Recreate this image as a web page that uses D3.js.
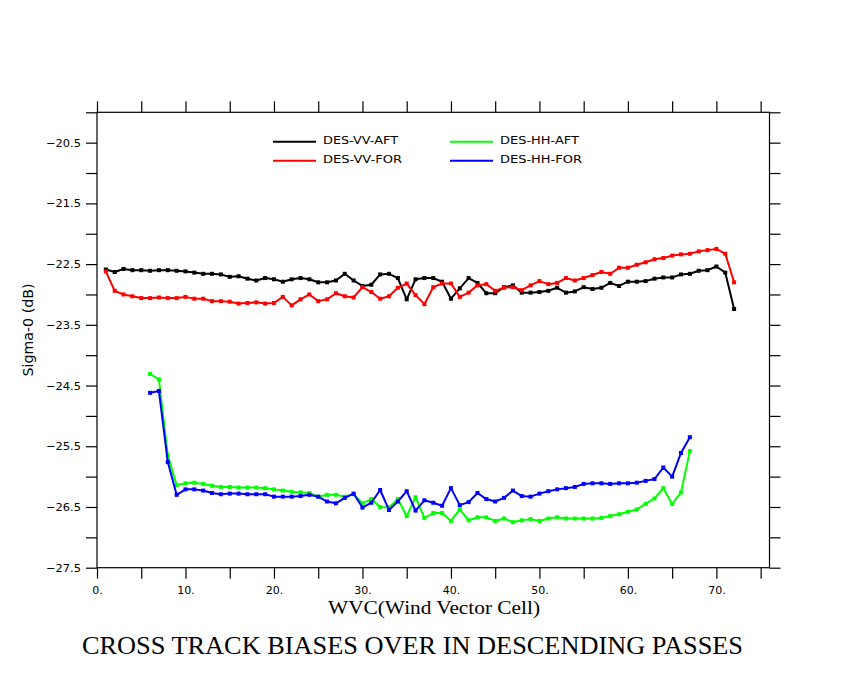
<!DOCTYPE html>
<html>
<head>
<meta charset="utf-8">
<script src="https://cdn.jsdelivr.net/npm/d3@7"></script>
<style>
  body { margin: 0; background: #fff; }
  svg { display: block; }
</style>
</head>
<body>
<svg id="chart" width="850" height="680"></svg>
<script>
// ---- data ----
const wvcVV = [1,2,3,4,5,6,7,8,9,10,11,12,13,14,15,16,17,18,19,20,21,22,23,24,25,26,27,28,29,30,31,32,33,34,35,36,
  37,38,39,40,41,42,43,44,45,46,47,48,49,50,51,52,53,54,55,56,57,58,59,60,61,62,63,64,65,66,67,68,69,70,71,72];
const wvcHH = [6,7,8,9,10,11,12,13,14,15,16,17,18,19,20,21,22,23,24,25,26,27,28,29,30,31,32,33,34,35,36,
  37,38,39,40,41,42,43,44,45,46,47,48,49,50,51,52,53,54,55,56,57,58,59,60,61,62,63,64,65,66,67];

const desVVAft = [-22.59,-22.63,-22.58,-22.60,-22.60,-22.61,-22.60,-22.60,-22.61,-22.62,-22.64,-22.66,-22.66,-22.67,
  -22.71,-22.70,-22.74,-22.77,-22.73,-22.75,-22.79,-22.75,-22.73,-22.75,-22.80,-22.80,-22.77,-22.66,-22.77,-22.86,
  -22.84,-22.67,-22.66,-22.73,-23.08,-22.75,-22.73,-22.73,-22.79,-23.07,-22.90,-22.73,-22.81,-22.98,-22.98,-22.88,
  -22.85,-22.97,-22.97,-22.96,-22.94,-22.89,-22.97,-22.95,-22.88,-22.91,-22.89,-22.81,-22.86,-22.79,-22.79,-22.78,
  -22.74,-22.72,-22.72,-22.67,-22.66,-22.61,-22.60,-22.54,-22.64,-23.24];

const desVVFor = [-22.62,-22.94,-23.00,-23.03,-23.06,-23.06,-23.05,-23.06,-23.06,-23.04,-23.07,-23.07,-23.11,-23.11,
  -23.12,-23.15,-23.14,-23.13,-23.15,-23.14,-23.04,-23.18,-23.08,-23.00,-23.11,-23.08,-22.98,-23.03,-23.05,-22.88,
  -22.96,-23.07,-23.03,-22.89,-22.82,-23.01,-23.16,-22.88,-22.82,-22.82,-23.04,-22.97,-22.85,-22.83,-22.94,-22.89,
  -22.88,-22.93,-22.85,-22.78,-22.83,-22.81,-22.73,-22.77,-22.73,-22.68,-22.63,-22.66,-22.56,-22.56,-22.51,-22.47,
  -22.42,-22.40,-22.36,-22.34,-22.33,-22.29,-22.27,-22.25,-22.33,-22.80];

const desHHAft = [-24.31,-24.40,-25.65,-26.14,-26.11,-26.10,-26.12,-26.15,-26.17,-26.17,-26.18,-26.18,-26.18,-26.19,
  -26.21,-26.23,-26.25,-26.26,-26.27,-26.33,-26.30,-26.30,-26.33,-26.29,-26.44,-26.37,-26.50,-26.51,-26.37,-26.65,
  -26.34,-26.68,-26.60,-26.60,-26.73,-26.54,-26.72,-26.67,-26.67,-26.73,-26.69,-26.75,-26.72,-26.70,-26.73,-26.69,
  -26.67,-26.69,-26.69,-26.69,-26.69,-26.68,-26.65,-26.62,-26.58,-26.54,-26.45,-26.36,-26.19,-26.45,-26.26,-25.58];

const desHHFor = [-24.62,-24.59,-25.76,-26.30,-26.21,-26.21,-26.23,-26.27,-26.29,-26.28,-26.28,-26.29,-26.29,-26.29,
  -26.33,-26.33,-26.33,-26.32,-26.30,-26.33,-26.41,-26.44,-26.35,-26.28,-26.51,-26.43,-26.22,-26.55,-26.41,-26.24,
  -26.56,-26.39,-26.43,-26.48,-26.19,-26.47,-26.42,-26.27,-26.37,-26.41,-26.35,-26.23,-26.32,-26.33,-26.28,-26.24,
  -26.21,-26.19,-26.17,-26.12,-26.11,-26.11,-26.12,-26.11,-26.11,-26.10,-26.07,-26.04,-25.85,-26.00,-25.61,-25.35];

const seriesNames = ["DES-VV-AFT", "DES-VV-FOR", "DES-HH-AFT", "DES-HH-FOR"];
const seriesColors = ["#000000", "#ff0000", "#00ff00", "#0000ff"];

const xTickValues = [0,5,10,15,20,25,30,35,40,45,50,55,60,65,70,75];
const xTickLabels = {0:"0.",10:"10.",20:"20.",30:"30.",40:"40.",50:"50.",60:"60.",70:"70."};
const yTickValues = [-20,-20.5,-21,-21.5,-22,-22.5,-23,-23.5,-24,-24.5,-25,-25.5,-26,-26.5,-27,-27.5];
const yTickLabels = {"-20.5":"−20.5","-21.5":"−21.5","-22.5":"−22.5","-23.5":"−23.5",
  "-24.5":"−24.5","-25.5":"−25.5","-26.5":"−26.5","-27.5":"−27.5"};

// ---- chart ----
const svg = d3.select("#chart");
const X0 = 97, X1 = 769.5, Y0 = 567.7, Y1 = 112.3;
const x = d3.scaleLinear().domain([0, 76]).range([X0, X1]);
const y = d3.scaleLinear().domain([-27.5, -20]).range([Y0, Y1]);

const tickFont = "DejaVu Sans, sans-serif";

function styleAxis(g) {
  g.select(".domain").remove();
  g.selectAll(".tick line").attr("stroke", "#000").attr("stroke-width", 1.2);
  g.selectAll("text").attr("font-family", tickFont).attr("font-size", 11).attr("fill", "#000");
}

svg.append("g").attr("transform", `translate(${X0},0)`)
  .call(d3.axisLeft(y).tickValues(yTickValues).tickSize(11).tickSizeOuter(0).tickPadding(5)
    .tickFormat(d => yTickLabels[String(d)] || ""))
  .call(styleAxis)
  .call(g => g.selectAll("text").filter(function() { return this.textContent !== ""; })
    .attr("textLength", 35).attr("lengthAdjust", "spacingAndGlyphs"));
svg.append("g").attr("transform", `translate(${X1},0)`)
  .call(d3.axisRight(y).tickValues(yTickValues).tickSize(11).tickSizeOuter(0).tickFormat(""))
  .call(styleAxis);
svg.append("g").attr("transform", `translate(0,${Y0})`)
  .call(d3.axisBottom(x).tickValues(xTickValues).tickSize(11).tickSizeOuter(0).tickPadding(8)
    .tickFormat(d => xTickLabels[d] || ""))
  .call(styleAxis);
svg.append("g").attr("transform", `translate(0,${Y1})`)
  .call(d3.axisTop(x).tickValues(xTickValues).tickSize(11).tickSizeOuter(0).tickFormat(""))
  .call(styleAxis);

// frame
svg.append("rect").attr("x", X0).attr("y", Y1).attr("width", X1 - X0).attr("height", Y0 - Y1)
  .attr("fill", "none").attr("stroke", "#000").attr("stroke-width", 1.2);

// series
const seriesData = [
  {xs: wvcVV, ys: desVVAft},
  {xs: wvcVV, ys: desVVFor},
  {xs: wvcHH, ys: desHHAft},
  {xs: wvcHH, ys: desHHFor}
];
const line = d3.line().x(d => x(d[0])).y(d => y(d[1]));
seriesData.forEach((s, k) => {
  const pts = s.xs.map((v, i) => [v, s.ys[i]]);
  const g = svg.append("g");
  g.append("path").datum(pts).attr("d", line)
    .attr("fill", "none").attr("stroke", seriesColors[k]).attr("stroke-width", 2)
    .attr("stroke-linejoin", "round");
  g.selectAll("rect").data(pts).enter().append("rect")
    .attr("x", d => x(d[0]) - 2).attr("y", d => y(d[1]) - 2)
    .attr("width", 4).attr("height", 4).attr("fill", seriesColors[k]);
});

// legend
const legendPos = [[273, 141.7], [273, 160.7], [450, 141.7], [450, 160.7]];
const legendTextLen = [75, 79, 79, 82];
seriesNames.forEach((name, k) => {
  const [lx, ly] = legendPos[k];
  svg.append("line").attr("x1", lx).attr("x2", lx + 43).attr("y1", ly).attr("y2", ly)
    .attr("stroke", seriesColors[k]).attr("stroke-width", 2);
  svg.append("text").attr("x", lx + 50).attr("y", ly - 1.5).attr("dy", "0.35em")
    .attr("font-family", tickFont).attr("font-size", 11).attr("fill", "#000")
    .attr("textLength", legendTextLen[k]).attr("lengthAdjust", "spacingAndGlyphs")
    .text(name);
});

// axis titles
svg.append("text").attr("x", 434).attr("y", 614).attr("text-anchor", "middle")
  .attr("font-family", "Liberation Serif, Times New Roman, serif").attr("font-size", 19)
  .attr("textLength", 212).attr("lengthAdjust", "spacingAndGlyphs")
  .text("WVC(Wind Vector Cell)");

svg.append("text").attr("transform", "translate(33,330) rotate(-90)").attr("text-anchor", "middle")
  .attr("font-family", tickFont).attr("font-size", 14)
  .attr("textLength", 93).attr("lengthAdjust", "spacingAndGlyphs")
  .text("Sigma-0 (dB)");

svg.append("text").attr("x", 412.5).attr("y", 654).attr("text-anchor", "middle")
  .attr("font-family", "Liberation Serif, Times New Roman, serif").attr("font-size", 25)
  .attr("textLength", 661).attr("lengthAdjust", "spacingAndGlyphs")
  .text("CROSS TRACK BIASES OVER IN DESCENDING PASSES");
</script>
</body>
</html>
